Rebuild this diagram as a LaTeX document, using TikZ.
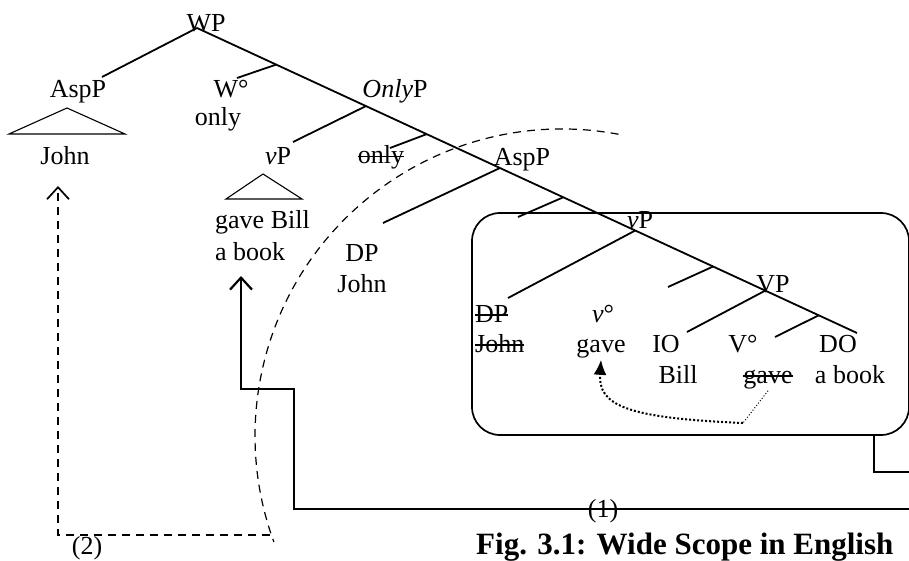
\documentclass[tikz,border=0pt]{standalone}
\usepackage{fontspec}
\setmainfont{Liberation Serif}
\usetikzlibrary{arrows.meta,calc}
\newlength{\strklen}
\newcommand{\strk}[1]{\settowidth{\strklen}{#1}\rlap{\rule[0.25em]{\strklen}{1.2pt}}#1}

\begin{document}
\begin{tikzpicture}[
    x=1pt, y=-1pt,
    every node/.style={font=\fontsize{26}{30}\selectfont, inner sep=2pt},
    lbl/.style={anchor=base},
    lblw/.style={anchor=base west},
    branch/.style={line width=1.8pt},
    roof/.style={line width=1.1pt},
    path1/.style={line width=2.2pt},
    path2/.style={line width=1.7pt, dash pattern=on 8pt off 6pt},
    scopeline/.style={line width=1.2pt, dash pattern=on 8pt off 6pt},
    arrowhd/.style={-{Straight Barb[length=12pt,width=22pt]}},
    headmove/.style={line width=2pt, dotted, -{Latex[length=15pt,width=13pt]}}
  ]
  \clip (0,0) rectangle (909,561);

  % spine of the tree
  \coordinate (top) at (197,28);
  \coordinate (bot) at (857,333);
  \draw[branch] (top) -- (bot);
  \coordinate (j1) at ($(top)!0.120!(bot)$);
  \coordinate (j2) at ($(top)!0.256!(bot)$);
  \coordinate (j3) at ($(top)!0.348!(bot)$);
  \coordinate (j4) at ($(top)!0.459!(bot)$);
  \coordinate (j5) at ($(top)!0.555!(bot)$);
  \coordinate (j6) at ($(top)!0.664!(bot)$);
  \coordinate (j7) at ($(top)!0.782!(bot)$);
  \coordinate (j8) at ($(top)!0.861!(bot)$);
  \coordinate (j9) at ($(top)!0.942!(bot)$);

  % left arms
  \coordinate (a0) at (102,77);
  \coordinate (a1) at (237,78);
  \coordinate (a2) at (293,142);
  \coordinate (a3) at (390,148);
  \coordinate (a4) at (383,223);
  \coordinate (a5) at (518,217);
  \coordinate (a6) at (508,298);
  \coordinate (a7) at (668,287);
  \coordinate (a8) at (687,332);
  \coordinate (a9) at (775,337);
  \draw[branch] (top) -- (a0);
  \draw[branch] (j1) -- (a1);
  \draw[branch] (j2) -- (a2);
  \draw[branch] (j3) -- (a3);
  \draw[branch] (j4) -- (a4);
  \draw[branch] (j5) -- (a5);
  \draw[branch] (j6) -- (a6);
  \draw[branch] (j7) -- (a7);
  \draw[branch] (j8) -- (a8);
  \draw[branch] (j9) -- (a9);

  % labels
  \node[lbl] (wp) at (206,32) {WP};
  \node[lbl] (aspa) at (78,98) {AspP};
  \node[lbl] (johna) at (65,165) {John};
  \node[lbl] (wdeg) at (231,98) {W°};
  \node[lbl] (wonly) at (218,126) {only};
  \node[lbl] (onlyp) at (395,98) {\textit{Only}P};
  \node[lbl] (vpa) at (278,165) {\textit{v}P};
  \node[lbl] (onlys) at (381,164) {\strk{only}};
  \node[lblw] (gbill) at (213,229) {gave Bill};
  \node[lblw] (abooka) at (213,260) {a book};
  \node[lbl] (dp) at (362,261) {DP};
  \node[lbl] (johnb) at (362,292) {John};
  \node[lbl] (aspb) at (522,166) {AspP};
  \node[lbl] (vpb) at (640,229) {\textit{v}P};
  \node[lbl] (vpc) at (773,292) {VP};
  \node[lblw] (dps) at (473,322) {\strk{DP}};
  \node[lblw] (johns) at (473,352) {\strk{John}};
  \node[lbl] (vdeg) at (603,322) {\textit{v}°};
  \node[lbl] (gavea) at (601,352) {gave};
  \node[lbl] (io) at (666,352) {IO};
  \node[lbl] (bill) at (678,383) {Bill};
  \node[lbl] (vdegb) at (743,352) {V°};
  \node[lbl] (gaves) at (768,383) {\strk{gave}};
  \node[lbl] (do) at (838,352) {DO};
  \node[lbl] (abookb) at (850,383) {a book};

  % roofs
  \draw[roof] (67,108) -- (9,134) -- (125,134) -- cycle;
  \draw[roof] (263,174) -- (226,199) -- (302,199) -- cycle;

  % the vP box
  \node[draw, line width=1.7pt, rounded corners=28pt, minimum width=437pt,
        minimum height=222pt, inner sep=0pt] (vpbox) at (690.5,324) {};

  % head movement
  \coordinate (hm) at (743,423);
  \draw[line width=1pt, dotted] (gaves.south) -- (hm);
  \draw[headmove] (hm) .. controls (625,418) and (598,405) .. (gavea.south);

  % scope of only
  \draw[scopeline] (562,436) ++(-79.4:307) arc[start angle=-79.4, end angle=-200.2, radius=307];

  % movement (1)
  \coordinate (boxout) at (874,435);
  \coordinate (out0) at (930,472);
  \draw[path1] (boxout) |- (out0);
  \coordinate (out1) at (930,509);
  \coordinate (gbtip) at (241,276);
  \draw[path1, arrowhd] (out1) -| (294,389) -| (gbtip);
  \node (lab1) at (603,511) {(1)};

  % movement (2)
  \coordinate (d2) at (270,535);
  \coordinate (jtip) at (58,186);
  \draw[path2, arrowhd] (d2) -| (jtip);
  \node (lab2) at (87,548) {(2)};

  \node[anchor=base west, font=\fontsize{31}{36}\selectfont\bfseries] (caption) at (474,554) {Fig. 3.1: Wide Scope in English};
\end{tikzpicture}
\end{document}
